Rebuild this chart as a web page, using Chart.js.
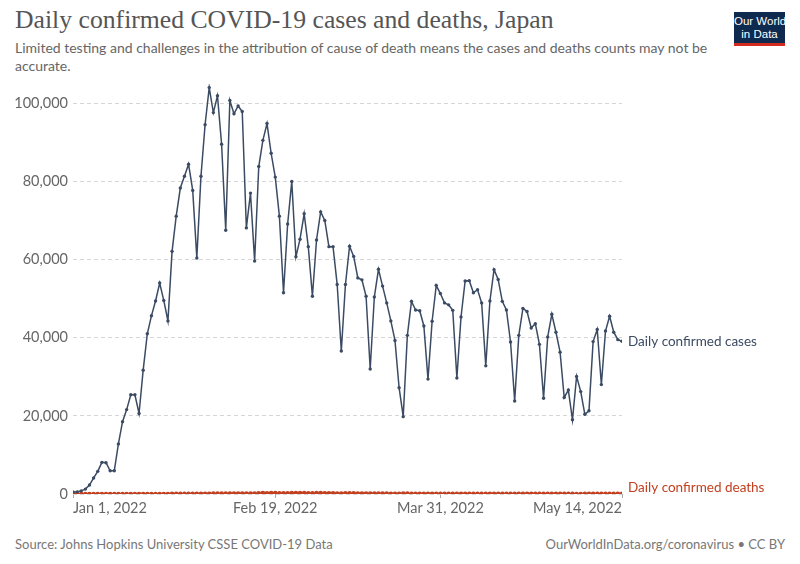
<!DOCTYPE html>
<html>
<head>
<meta charset="utf-8">
<script src="https://cdn.jsdelivr.net/npm/chart.js@4"></script>
<style>
  body { margin: 0; background: #fff; width: 800px; height: 564px; position: relative; overflow: hidden; font-family: Lato, "Liberation Sans", Arial, sans-serif; }
  #title { position: absolute; left: 15px; top: 5px; font-family: "Liberation Serif", serif; font-size: 25.7px; color: #555; white-space: nowrap; }
  #subtitle { position: absolute; left: 15px; top: 39px; width: 720px; font-size: 14px; line-height: 18px; color: #666; }
  #logo { position: absolute; left: 734px; top: 12px; width: 51px; height: 34px; background: #0e2a4e; border-bottom: 3px solid #d42b21; color: #fff; font-family: "Liberation Sans Narrow", "Liberation Sans", sans-serif; font-size: 11.5px; line-height: 13px; text-align: center; padding-top: 3px; box-sizing: border-box; white-space: nowrap; }
  #wrap { position: absolute; left: 0; top: 70px; width: 800px; height: 454px; }
  .foot { position: absolute; top: 536px; font-size: 13px; color: #777; }
</style>
</head>
<body>
<div id="title">Daily confirmed COVID-19 cases and deaths, Japan</div>
<div id="subtitle">Limited testing and challenges in the attribution of cause of death means the cases and deaths counts may not be accurate.</div>
<div id="logo">Our World<br>in Data</div>
<div id="wrap"><canvas id="chart"></canvas></div>
<div class="foot" style="left:15px">Source: Johns Hopkins University CSSE COVID-19 Data</div>
<div class="foot" style="right:15px">OurWorldInData.org/coronavirus • CC BY</div>
<script>
// Jan 1 2022 .. May 14 2022, one value per day
const casesJan = [500,550,800,1260,2300,4100,5800,8100,8000,5950,5950,12800,18500,21600,25400,25400,20600,31700,41000,45600,49400,54000,49500,44300,62100,71100,78300,81300,84400,77700,60400];
const casesFeb = [81300,94500,104000,97600,101900,89500,67500,100700,97300,99300,97900,68100,77000,59600,83800,90500,94800,87200,81100,71100,51500,69100,80000,60700,65200,71700,63300,50600];
const casesMar = [65000,72200,70000,63300,63300,53600,36600,53600,63400,60800,55300,54800,50600,32000,50400,57500,53200,48900,44300,39300,27200,19800,40600,49300,47100,46900,43000,29400,44200,53400,51300];
const casesApr = [48900,48400,47000,29700,45300,54500,54600,51500,52300,48900,32800,49400,57400,54900,49300,47100,38900,23800,40600,47500,46700,42500,43600,38300,24500,40200,46000,41400,36300,24700];
const casesMay = [26600,19000,30100,26200,20400,21300,39000,42100,28000,41700,45500,41400,39500,39100];

const deathsJan = [1,1,2,1,2,3,2,4,3,2,3,4,5,4,7,6,5,8,10,12,14,13,17,18,22,28,32,34,37,35,45];
const deathsFeb = [58,68,75,89,94,92,88,101,118,124,128,126,120,142,179,236,201,271,214,178,164,205,233,267,238,230,180,172];
const deathsMar = [231,212,192,205,188,134,128,198,169,152,143,132,99,92,132,125,112,107,73,52,57,96,89,75,67,59,42,49,63,52,46];
const deathsApr = [39,41,28,31,48,44,43,37,32,28,29,40,36,45,42,39,21,33,36,47,41,37,35,29,25,38,40,34,30,22];
const deathsMay = [26,20,18,16,28,30,32,31,27,42,38,36,34,30];

const tickDays = [0, 49, 89, 133];
const tickLabels = ['Jan 1, 2022', 'Feb 19, 2022', 'Mar 31, 2022', 'May 14, 2022'];
const yTicks = [0, 20000, 40000, 60000, 80000, 100000];

const cases = [].concat(casesJan, casesFeb, casesMar, casesApr, casesMay);
const deaths = [].concat(deathsJan, deathsFeb, deathsMar, deathsApr, deathsMay);

const casesColor = '#3b4b63';
const deathsColor = '#c2401f';
const font = 'Lato, "Liberation Sans", Arial, sans-serif';

const endLabels = {
    id: 'endLabels',
    afterDatasetsDraw(chart) {
        const ctx = chart.ctx;
        ctx.save();
        ctx.font = '13.5px ' + font;
        ctx.textBaseline = 'middle';
        chart.data.datasets.forEach((ds, i) => {
            const pts = chart.getDatasetMeta(i).data;
            const last = pts[pts.length - 1];
            ctx.fillStyle = ds.borderColor;
            ctx.fillText(ds.label, last.x + 6, last.y + (i == 1 ? -6 : 0));
        });
        ctx.restore();
    }
};

new Chart(document.getElementById('chart'), {
    type: 'line',
    data: {
        datasets: [
            { label: 'Daily confirmed cases', data: cases.map((v, i) => ({ x: i, y: v })), borderColor: casesColor, backgroundColor: casesColor, borderWidth: 1.5, pointRadius: 1.7, pointBorderWidth: 0, tension: 0 },
            { label: 'Daily confirmed deaths', data: deaths.map((v, i) => ({ x: i, y: v })), borderColor: deathsColor, backgroundColor: deathsColor, borderWidth: 1.8, pointRadius: 2.3, pointBorderWidth: 0, tension: 0 }
        ]
    },
    options: {
        responsive: true,
        maintainAspectRatio: false,
        animation: false,
        layout: { padding: { left: 15, right: 178, top: 9, bottom: 0 } },
        plugins: { legend: { display: false }, tooltip: { enabled: false } },
        scales: {
            x: {
                type: 'linear', min: 0, max: 133,
                afterBuildTicks: s => { s.ticks = tickDays.map(v => ({ value: v })); },
                afterFit: s => { s.height = 30; },
                border: { display: false },
                grid: { drawOnChartArea: false, drawTicks: true, tickLength: 4, color: '#aaa' },
                ticks: {
                    autoSkip: false, maxRotation: 0, align: 'inner', padding: 2,
                    color: '#666', font: { family: font, size: 14.5 },
                    callback: v => tickLabels[tickDays.indexOf(v)]
                }
            },
            y: {
                min: 0, max: 105000,
                afterBuildTicks: s => { s.ticks = yTicks.map(v => ({ value: v })); },
                afterFit: s => { s.width = 58; },
                border: { display: false, dash: [4, 3] },
                grid: { color: '#d6d6d6', drawTicks: false, borderDash: [4, 3] },
                ticks: {
                    padding: 5, color: '#666', font: { family: font, size: 14.5 },
                    callback: v => v.toLocaleString('en-US')
                }
            }
        }
    },
    plugins: [endLabels]
});
</script>
</body>
</html>
